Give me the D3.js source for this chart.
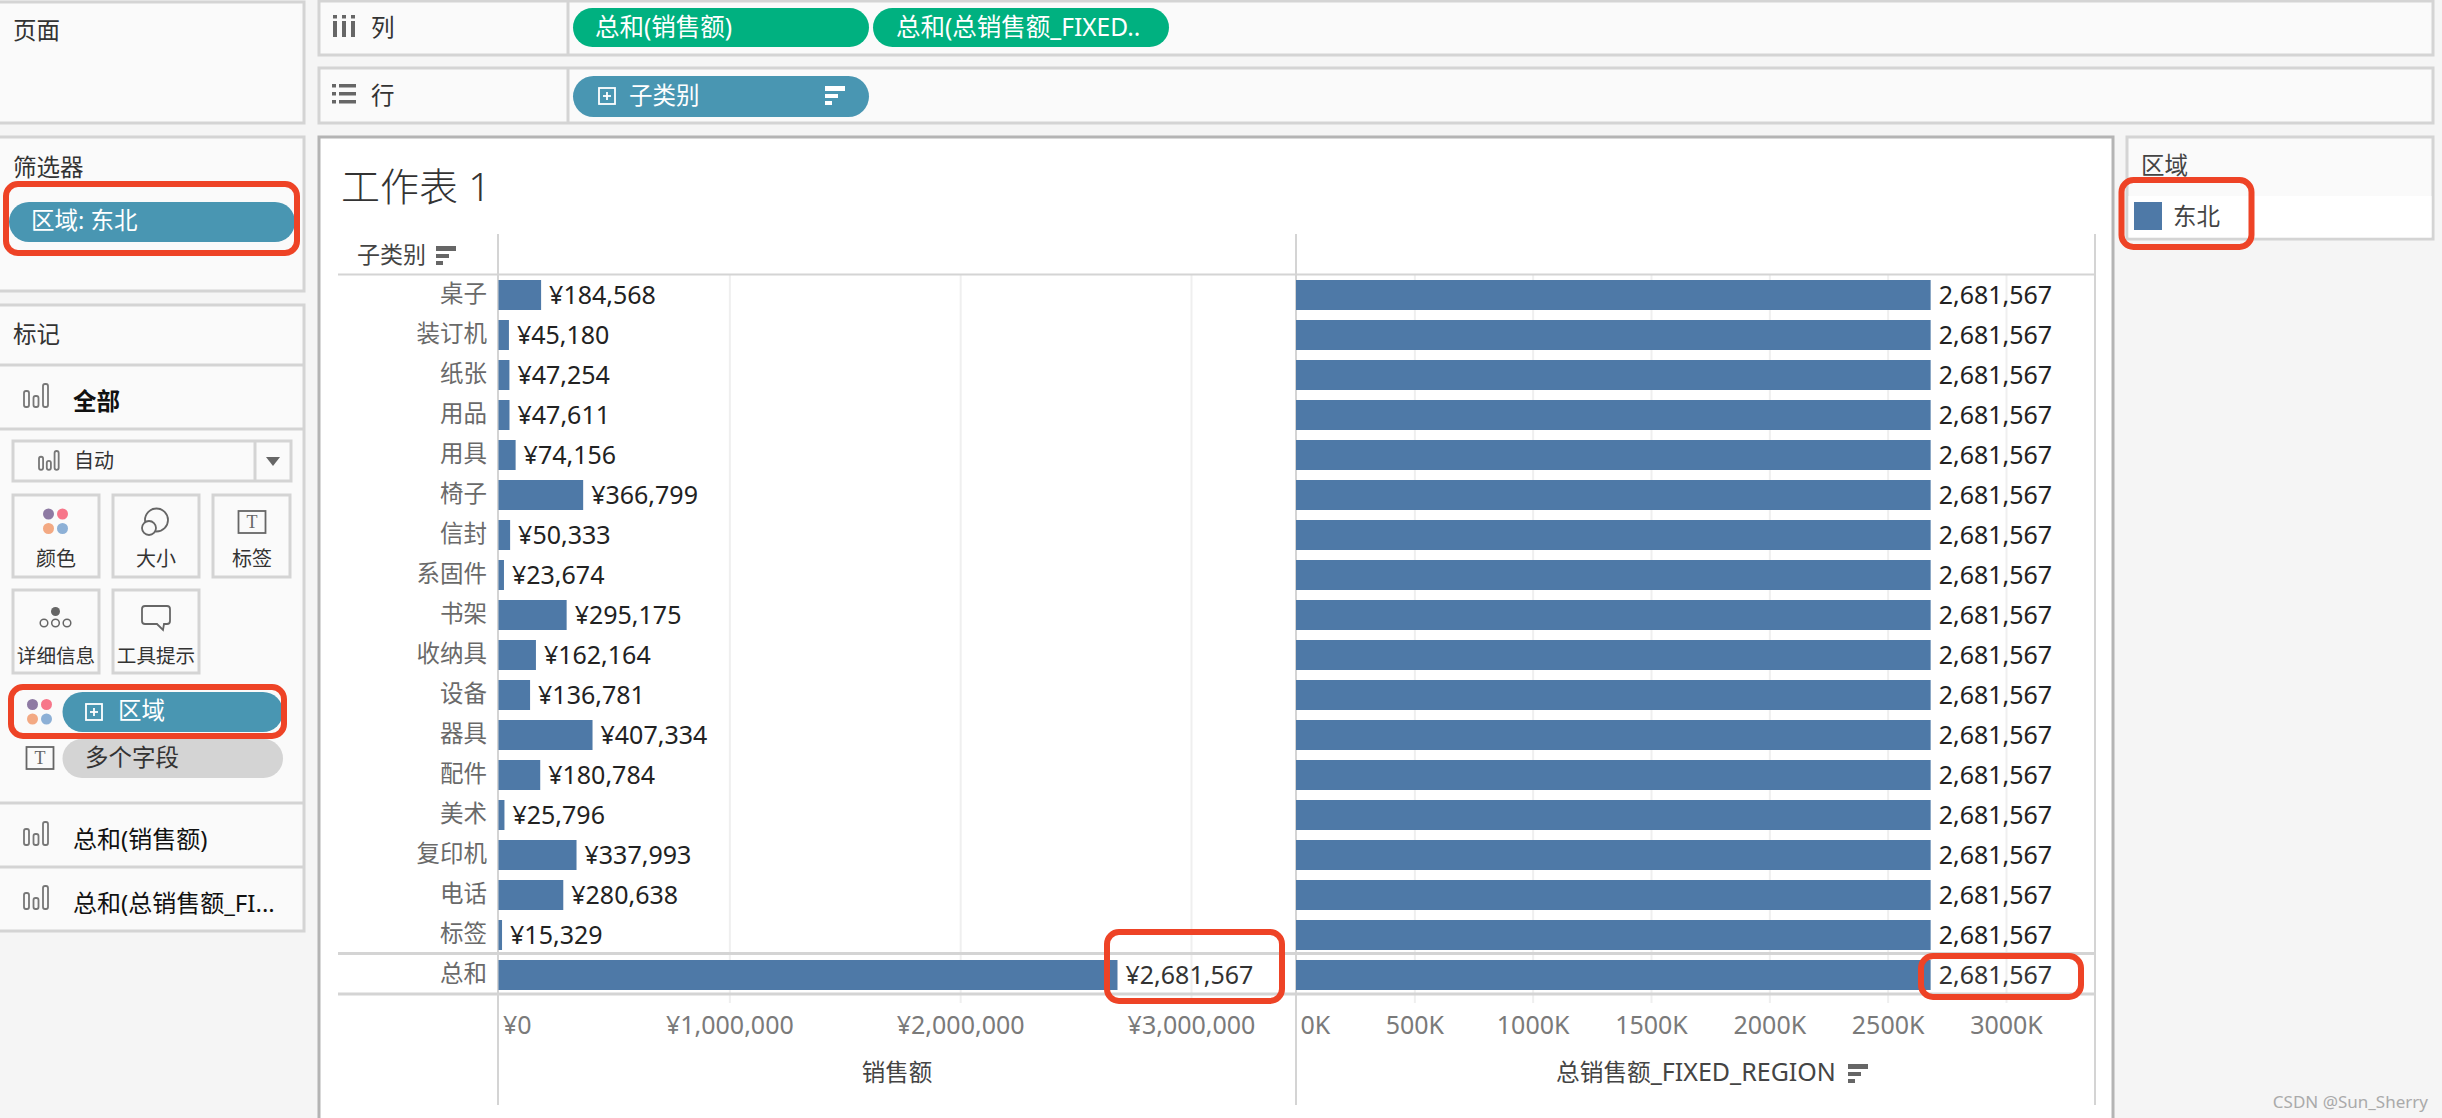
<!doctype html>
<html>
  <head>
    <meta charset="utf-8">
    <script src="https://cdnjs.cloudflare.com/ajax/libs/d3/7.8.5/d3.min.js"></script>
    <style>
      html, body { margin: 0; padding: 0; background: #f5f5f5; overflow: hidden; }
      svg { display: block; font-family: "Noto Sans", "Noto Sans CJK SC", sans-serif; }
    </style>
  </head>
  <body>
    <svg width="2442" height="1118"></svg>

  <script>
    // values
    let categories = ['桌子','装订机','纸张','用品','用具','椅子','信封','系固件','书架','收纳具','设备','器具','配件','美术','复印机','电话','标签','总和']
    let sales = [184568,45180,47254,47611,74156,366799,50333,23674,295175,162164,136781,407334,180784,25796,337993,280638,15329,2681567]
    let fixedRegion = [2681567,2681567,2681567,2681567,2681567,2681567,2681567,2681567,2681567,2681567,2681567,2681567,2681567,2681567,2681567,2681567,2681567,2681567]
    let salesTicks = [0,1000000,2000000,3000000]
    let salesTickLabels = ['¥0','¥1,000,000','¥2,000,000','¥3,000,000']
    let fixedTicks = [0,500000,1000000,1500000,2000000,2500000,3000000]
    let fixedTickLabels = ['0K','500K','1000K','1500K','2000K','2500K','3000K']

    let barColor = '#4e79a7', teal = '#4996b2', green = '#00b180', red = '#ee4326'
    let lineGray = '#d4d4d4', panelBg = '#fafafa'

    let svg = d3.select('svg')

    function panel(x, y, w, h, fill) {
      svg.append('rect').attr('x', x).attr('y', y).attr('width', w).attr('height', h)
         .attr('fill', fill || panelBg).attr('stroke', lineGray).attr('stroke-width', 3)
    }
    function line(x1, y1, x2, y2, color, w) {
      svg.append('line').attr('x1', x1).attr('y1', y1).attr('x2', x2).attr('y2', y2)
         .attr('stroke', color || lineGray).attr('stroke-width', w || 3)
    }
    function label(x, y, str, size, color, anchor, weight) {
      return svg.append('text').attr('x', x).attr('y', y).attr('dy', '.35em')
         .attr('font-size', size || 23).attr('fill', color || '#333')
         .attr('text-anchor', anchor || 'start').attr('font-weight', weight || 400)
         .text(str)
    }
    function pill(x, y, w, h, fill) {
      svg.append('rect').attr('x', x).attr('y', y).attr('width', w).attr('height', h)
         .attr('rx', h / 2).attr('fill', fill)
    }
    function redBox(x, y, w, h) {
      svg.append('rect').attr('x', x).attr('y', y).attr('width', w).attr('height', h)
         .attr('rx', 12).attr('fill', 'none').attr('stroke', red).attr('stroke-width', 6)
    }
    function sortIcon(x, y, color) {
      let c = color || '#666'
      svg.append('rect').attr('x', x).attr('y', y).attr('width', 20).attr('height', 5).attr('fill', c)
      svg.append('rect').attr('x', x).attr('y', y + 8).attr('width', 13).attr('height', 4).attr('fill', c)
      svg.append('rect').attr('x', x).attr('y', y + 15).attr('width', 7).attr('height', 4).attr('fill', c)
    }
    function barsIcon(x, y, k) {
      let heights = [16, 11, 23]
      heights.forEach(function(h, i) {
        svg.append('rect').attr('x', x + i * 9.5 * k).attr('y', y + (23 - h) * k)
           .attr('width', 5 * k).attr('height', h * k).attr('rx', 2)
           .attr('fill', 'none').attr('stroke', '#777').attr('stroke-width', 1.8)
      })
    }
    function dotsIcon(x, y, r) {
      let dots = [[0, 0, '#8e7aa3'], [14, 0, '#f7768a'], [0, 14.5, '#f3a983'], [14, 14.5, '#8db0d6']]
      dots.forEach(function(d) {
        svg.append('circle').attr('cx', x + d[0]).attr('cy', y + d[1]).attr('r', r).attr('fill', d[2])
      })
    }
    function textIcon(x, y) {
      svg.append('rect').attr('x', x).attr('y', y).attr('width', 27).attr('height', 22)
         .attr('fill', 'none').attr('stroke', '#666').attr('stroke-width', 1.8)
      svg.append('text').attr('x', x + 13.5).attr('y', y + 17).attr('text-anchor', 'middle')
         .attr('font-family', 'Liberation Serif').attr('font-size', 18).attr('fill', '#666').text('T')
    }
    function plusIcon(x, y, size, color) {
      svg.append('rect').attr('x', x).attr('y', y).attr('width', size).attr('height', size)
         .attr('fill', 'none').attr('stroke', color).attr('stroke-width', 1.8)
      line(x + 4, y + size / 2, x + size - 4, y + size / 2, color, 1.8)
      line(x + size / 2, y + 4, x + size / 2, y + size - 4, color, 1.8)
    }

    // Tableau side panels and shelves
    panel(-3, 2, 307, 121)
    label(13, 31, '页面', 23.5)
    panel(-3, 137, 307, 154)
    label(13, 168, '筛选器', 23.5)
    pill(9, 202, 286, 40, teal)
    label(31, 221, '区域: 东北', 23.5, '#fff')
    redBox(6, 184, 291, 69)

    panel(-3, 305, 307, 626)
    label(13, 335, '标记', 23.5)
    line(0, 365, 304, 365)
    barsIcon(24, 384, 1)
    label(73, 402, '全部', 23.5, '#111', 'start', 700)
    line(0, 429, 304, 429)
    panel(13, 441, 278, 40, '#fafafa')
    line(255, 441, 255, 481)
    barsIcon(39, 451, .82)
    label(74, 461, '自动', 20)
    svg.append('path').attr('d', 'M266,457h14l-7,9z').attr('fill', '#666')

    panel(13, 495, 86, 82); panel(113, 495, 86, 82); panel(213, 495, 77, 82)
    panel(13, 590, 86, 83); panel(113, 590, 86, 83)
    dotsIcon(48.5, 514, 5.5)
    label(56, 559, '颜色', 20, '#333', 'middle')
    svg.append('circle').attr('cx', 156.5).attr('cy', 520).attr('r', 11.5).attr('fill', 'none').attr('stroke', '#666').attr('stroke-width', 1.8)
    svg.append('circle').attr('cx', 149).attr('cy', 528).attr('r', 7).attr('fill', panelBg).attr('stroke', '#666').attr('stroke-width', 1.8)
    label(156, 559, '大小', 20, '#333', 'middle')
    textIcon(238.5, 511)
    label(252, 559, '标签', 20, '#333', 'middle')
    svg.append('circle').attr('cx', 55.5).attr('cy', 611.5).attr('r', 4.5).attr('fill', '#666')
    ;[44, 55.5, 67].forEach(function(x) {
      svg.append('circle').attr('cx', x).attr('cy', 623).attr('r', 3.8).attr('fill', 'none').attr('stroke', '#666').attr('stroke-width', 1.5)
    })
    label(56, 656, '详细信息', 19.6, '#333', 'middle')
    svg.append('path').attr('d', 'M145,606h22a3,3 0 0 1 3,3v12a3,3 0 0 1 -3,3h-3l-1,6l-6,-6h-12a3,3 0 0 1 -3,-3v-12a3,3 0 0 1 3,-3z')
       .attr('fill', 'none').attr('stroke', '#666').attr('stroke-width', 1.8)
    label(156, 656, '工具提示', 19.6, '#333', 'middle')

    dotsIcon(32.5, 704.5, 5.5)
    pill(62.5, 692, 220.5, 40, teal)
    plusIcon(86, 704, 16, '#fff')
    label(118, 711, '区域', 23.5, '#fff')
    redBox(11, 687, 273, 49)
    textIcon(26.5, 747)
    pill(62.5, 739, 220.5, 39, lineGray)
    label(85, 758, '多个字段', 23.5)

    line(0, 803, 304, 803)
    barsIcon(24, 822, 1)
    label(73, 840, '总和(销售额)', 24, '#111')
    line(0, 867, 304, 867)
    barsIcon(24, 886, 1)
    label(73, 904, '总和(总销售额_FI...', 24, '#111')

    panel(319, 1, 2114, 54)
    line(568, 1, 568, 55)
    ;[334, 343, 352].forEach(function(x) {
      svg.append('rect').attr('x', x - 1).attr('y', 21).attr('width', 4).attr('height', 16).attr('fill', '#666')
      svg.append('rect').attr('x', x - 1).attr('y', 15).attr('width', 4).attr('height', 3.5).attr('fill', '#666')
    })
    label(371, 28, '列', 23.5)
    pill(573, 8, 296, 39, green)
    label(595, 27, '总和(销售额)', 24.5, '#fff')
    pill(873, 8, 296, 39, green)
    label(896, 27, '总和(总销售额_FIXED..', 24.5, '#fff')

    panel(319, 68, 2114, 55)
    line(568, 68, 568, 123)
    ;[84, 92, 100].forEach(function(y) {
      svg.append('rect').attr('x', 332).attr('y', y).attr('width', 4).attr('height', 3.5).attr('fill', '#666')
      svg.append('rect').attr('x', 339).attr('y', y).attr('width', 17).attr('height', 3.5).attr('fill', '#666')
    })
    label(371, 96, '行', 23.5)
    pill(573, 76, 296, 41, teal)
    plusIcon(599, 88, 16, '#fff')
    label(629, 96, '子类别', 23.5, '#fff')
    sortIcon(825, 86, '#fff')

    // worksheet
    svg.append('rect').attr('x', 319).attr('y', 137).attr('width', 1794).attr('height', 990)
       .attr('fill', '#fff').attr('stroke', '#b4b4b4').attr('stroke-width', 3)
    label(341, 187, '工作表 1', 39, '#333').attr('font-weight', 300)
    label(357, 255, '子类别', 23, '#444')
    sortIcon(436, 246)

    // scales
    let y = d3.scaleBand().domain(categories).range([275, 995]).paddingInner(.25).paddingOuter(.125)
    let xSales = d3.scaleLinear().domain([0, 3000000]).range([498.5, 1191])
    let xFixed = d3.scaleLinear().domain([0, 3000000]).range([1296, 2006])
    let gridBottom = 1003

    function grid(scale, ticks) {
      let g = svg.append('g').attr('transform', 'translate(0,' + gridBottom + ')')
        .call(d3.axisBottom(scale).tickValues(ticks.slice(1)).tickSize(-(gridBottom - 275)).tickFormat(''))
      g.select('.domain').remove()
      g.selectAll('line').attr('stroke', '#efefef').attr('stroke-width', 2)
    }
    function axis(scale, ticks, labels) {
      let g = svg.append('g').attr('transform', 'translate(0,' + gridBottom + ')')
        .call(d3.axisBottom(scale).tickValues(ticks).tickSize(0).tickFormat(function(d, i) { return labels[i] }))
      g.select('.domain').remove()
      g.attr('font-family', null).attr('font-size', null)
      g.selectAll('text').attr('y', 22).attr('dy', '.35em').attr('font-size', 25).attr('fill', '#7a7a7a')
      // first label sits inside the pane
      g.selectAll('.tick').filter(function(d) { return d === 0 }).select('text')
        .attr('text-anchor', 'start').attr('x', 4)
    }
    grid(xSales, salesTicks)
    grid(xFixed, fixedTicks)

    // pane rules
    line(338, 274.5, 2095, 274.5, lineGray, 2)
    line(338, 953.5, 2095, 953.5, lineGray, 3)
    line(338, 994, 2095, 994, lineGray, 3)
    line(498, 234, 498, 1105, lineGray, 2)
    line(1296, 234, 1296, 1105, lineGray, 2)
    line(2095, 234, 2095, 1105, lineGray, 2)

    let rows = categories.map(function(c, i) { return { cat: c, sales: sales[i], fixed: fixedRegion[i] } })

    svg.append('g').selectAll('text').data(rows).enter().append('text')
        .attr('x', 487).attr('y', function(d) { return y(d.cat) + y.bandwidth() / 2 - 1 }).attr('dy', '.35em')
        .attr('text-anchor', 'end').attr('font-size', 23.5).attr('fill', '#6a6a6a')
        .text(function(d) { return d.cat })

    svg.append('g').selectAll('rect').data(rows).enter().append('rect')
        .attr('x', xSales(0)).attr('y', function(d) { return y(d.cat) })
        .attr('width', function(d) { return xSales(d.sales) - xSales(0) }).attr('height', y.bandwidth())
        .attr('fill', barColor)
    svg.append('g').selectAll('rect').data(rows).enter().append('rect')
        .attr('x', xFixed(0)).attr('y', function(d) { return y(d.cat) })
        .attr('width', function(d) { return xFixed(d.fixed) - xFixed(0) }).attr('height', y.bandwidth())
        .attr('fill', barColor)

    let fmtSales = d3.format(',')
    svg.append('g').selectAll('text').data(rows).enter().append('text')
        .attr('x', function(d) { return xSales(d.sales) + 8 }).attr('y', function(d) { return y(d.cat) + y.bandwidth() / 2 }).attr('dy', '.35em')
        .attr('font-size', 25).attr('fill', function(d) { return d.cat === '总和' ? '#333' : '#222' })
        .text(function(d) { return '¥' + fmtSales(d.sales) })
    svg.append('g').selectAll('text').data(rows).enter().append('text')
        .attr('x', function(d) { return xFixed(d.fixed) + 8 }).attr('y', function(d) { return y(d.cat) + y.bandwidth() / 2 }).attr('dy', '.35em')
        .attr('font-size', 25).attr('fill', function(d) { return d.cat === '总和' ? '#333' : '#222' })
        .text(function(d) { return fmtSales(d.fixed) })

    axis(xSales, salesTicks, salesTickLabels)
    axis(xFixed, fixedTicks, fixedTickLabels)

    label(897, 1073, '销售额', 23.5, '#444', 'middle')
    let fixedTitle = label(1556, 1073, '总销售额', 23.7, '#444')
    fixedTitle.append('tspan').attr('font-size', 25).text('_FIXED_REGION')
    sortIcon(1848, 1064)

    redBox(1107, 932, 175, 69)
    redBox(1921, 956, 160, 41)

    // legend
    panel(2127, 137, 306, 102)
    label(2141, 166, '区域', 23.5, '#444')
    svg.append('rect').attr('x', 2128.5).attr('y', 196).attr('width', 303).attr('height', 41.5).attr('fill', '#fff')
    svg.append('rect').attr('x', 2134).attr('y', 202).attr('width', 28).attr('height', 28).attr('fill', barColor)
    label(2173, 217, '东北', 23.5, '#444')
    redBox(2121.5, 180, 130, 67)

    label(2428, 1102, 'CSDN @Sun_Sherry', 17, '#aaa', 'end')
  </script>
  </body>
</html>
